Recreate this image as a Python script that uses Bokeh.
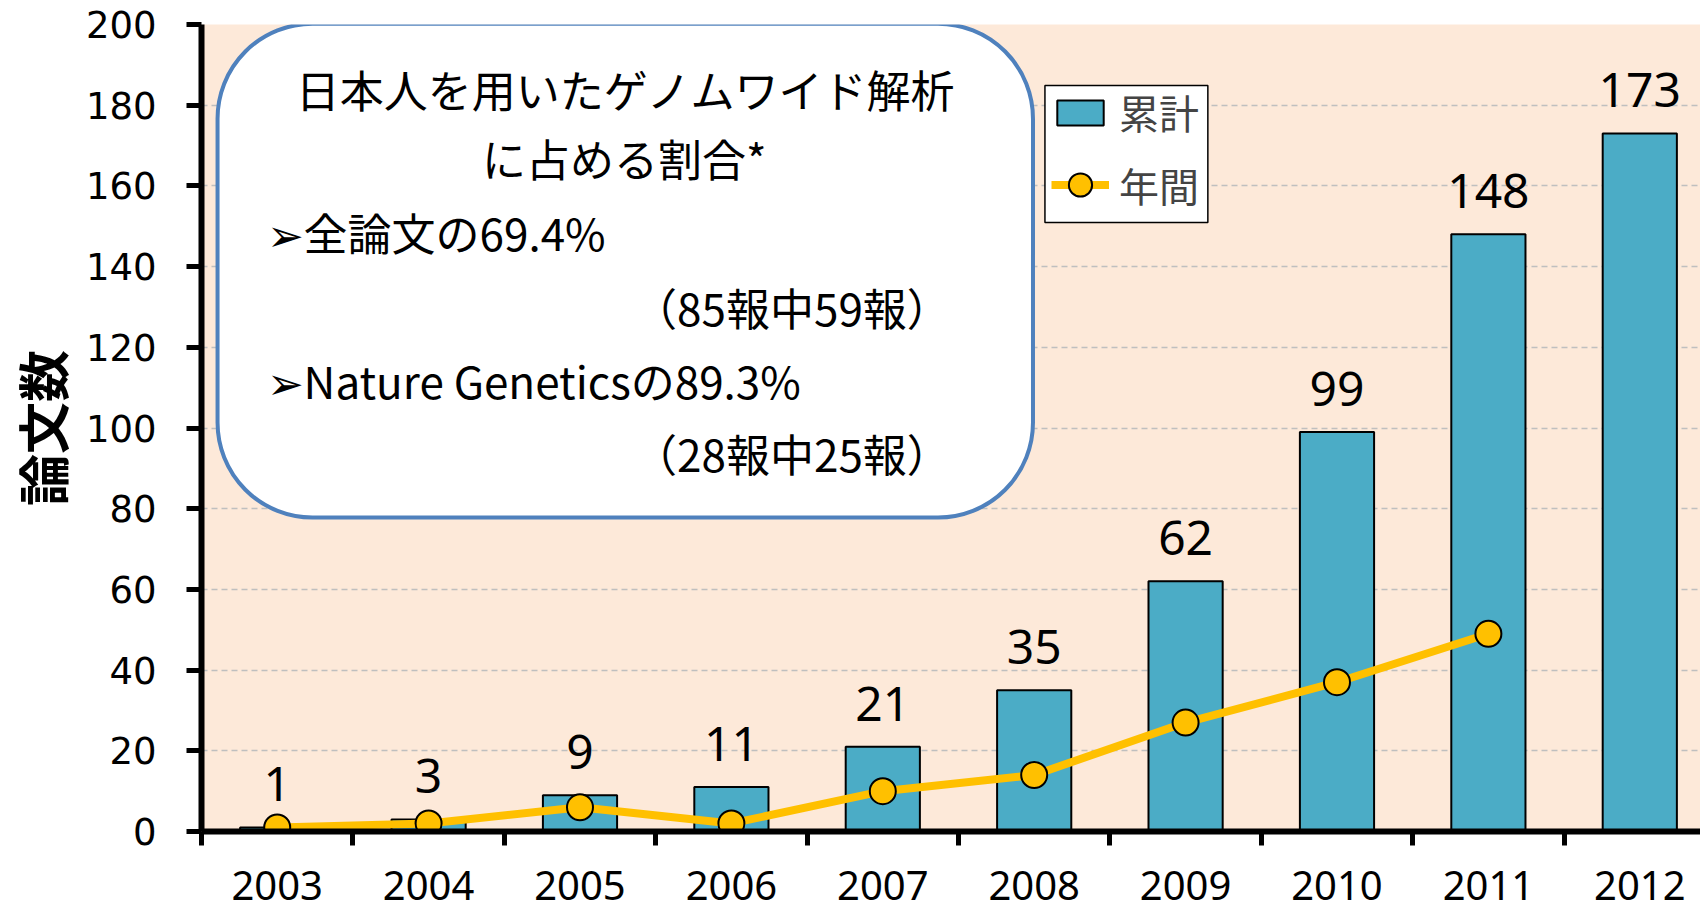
from bokeh.plotting import figure
from bokeh.models import Range1d, FixedTicker, BoxAnnotation, Label, Legend, LegendItem
from bokeh.core.properties import value
from bokeh.embed import file_html
from bokeh.resources import INLINE

# ---- data ----
years = ["2003", "2004", "2005", "2006", "2007", "2008", "2009", "2010", "2011", "2012"]
cumulative = [1, 3, 9, 11, 21, 35, 62, 99, 148, 173]
annual_years = ["2003", "2004", "2005", "2006", "2007", "2008", "2009", "2010", "2011"]
annual = [1, 2, 6, 2, 10, 14, 27, 37, 49]
y_ticks = [0, 20, 40, 60, 80, 100, 120, 140, 160, 180, 200]

box_lines = [
    "日本人を用いたゲノムワイド解析",
    "に占める割合*",
    "➢全論文の69.4%",
    "（85報中59報）",
    "➢Nature Geneticsの89.3%",
    "（28報中25報）",
]

x_bar = [years.index(y) for y in years]
x_ann = [years.index(y) for y in annual_years]

# ---- figure ----
p = figure(width=1700, height=913, output_backend="svg", toolbar_location=None,
           x_range=Range1d(-0.5, 9.401), y_range=Range1d(0, 200),
           min_border_left=200, min_border_top=24, min_border_bottom=82, min_border_right=0)
p.background_fill_color = "#fde9d9"
p.border_fill_color = "white"
p.outline_line_color = None

bars = p.vbar(x=x_bar, top=cumulative, width=0.49, fill_color="#4bacc6",
              line_color="black", line_width=2)
p.text(x=x_bar, y=cumulative, text=[str(v) for v in cumulative], text_align="center",
       text_baseline="alphabetic", y_offset=-43, text_font=value("Noto Sans"),
       text_font_size="48px", text_color="black")
ln = p.line(x=x_ann, y=annual, line_color="#ffc000", line_width=8)
sc = p.scatter(x=x_ann, y=annual, size=26, fill_color="#ffc000", line_color="black", line_width=2)

xa = p.xaxis[0]
xa.ticker = FixedTicker(ticks=x_bar, minor_ticks=[i - 0.5 for i in range(len(years) + 1)])
xa.major_label_overrides = {i: y for i, y in enumerate(years)}
xa.major_tick_out = 0
xa.major_tick_in = 0
xa.minor_tick_out = 14
xa.minor_tick_in = 0
xa.minor_tick_line_width = 5
xa.minor_tick_line_color = "black"
xa.axis_line_width = 6
xa.axis_line_color = "black"
xa.major_label_text_font = "Noto Sans"
xa.major_label_text_font_size = "40px"
xa.major_label_text_color = "black"
xa.major_label_standoff = 25

ya = p.yaxis[0]
ya.ticker = FixedTicker(ticks=y_ticks)
ya.major_tick_out = 15
ya.major_tick_in = 0
ya.major_tick_line_width = 5
ya.minor_tick_line_color = None
ya.axis_line_width = 6
ya.axis_line_color = "black"
ya.major_label_text_font = "DejaVu Sans"
ya.major_label_text_font_size = "37px"
ya.major_label_text_color = "black"
ya.major_label_standoff = 30
ya.axis_label = "論文数"
ya.axis_label_text_font = "Noto Sans CJK JP"
ya.axis_label_text_font_style = "bold"
ya.axis_label_text_font_size = "52px"
ya.axis_label_text_color = "black"
ya.axis_label_standoff = 4

p.xgrid.grid_line_color = None
p.ygrid.ticker = FixedTicker(ticks=y_ticks)
p.ygrid.grid_line_color = "#bfbfbf"
p.ygrid.grid_line_width = 1.5
p.ygrid.grid_line_dash = "6 4"

box = BoxAnnotation(left=-0.394, right=4.992, top=200.2, bottom=77.8,
                    fill_color="white", fill_alpha=1.0, line_color="#4f81bd", line_alpha=1.0,
                    line_width=4, border_radius=95, level="overlay")
p.add_layout(box)

pos = [(2.302, 184.0, "center"), (2.292, 167.0, "center"), (-0.07, 148.6, "left"),
       (3.40, 130.0, "center"), (-0.07, 111.8, "left"), (3.40, 93.8, "center")]
for (x, y, al), t in zip(pos, box_lines):
    p.add_layout(Label(x=x, y=y, text=t, text_align=al, text_baseline="middle",
                       text_font="Noto Sans CJK JP", text_font_size="44px",
                       text_color="black", level="overlay"))

# legend frame
p.add_layout(BoxAnnotation(left=5.071, right=6.147, top=184.9, bottom=150.9,
                           fill_color="white", fill_alpha=1.0, line_color="black",
                           line_alpha=1.0, line_width=1.5, level="overlay"))
leg1 = Legend(items=[LegendItem(label="累計", renderers=[bars])],
              location=(850, 690), label_text_font="Noto Sans CJK JP", label_text_font_size="40px",
              glyph_width=58, glyph_height=31, label_standoff=10, padding=0, spacing=0, margin=0,
              border_line_color=None, background_fill_alpha=0.0)
leg2 = Legend(items=[LegendItem(label="年間", renderers=[ln, sc])],
              location=(850, 614), label_text_font="Noto Sans CJK JP", label_text_font_size="40px",
              glyph_width=58, glyph_height=65, label_standoff=10, padding=0, spacing=0, margin=0,
              border_line_color=None, background_fill_alpha=0.0)
p.add_layout(leg1)
p.add_layout(leg2)

open("out.html", "w").write(file_html(p, INLINE))
